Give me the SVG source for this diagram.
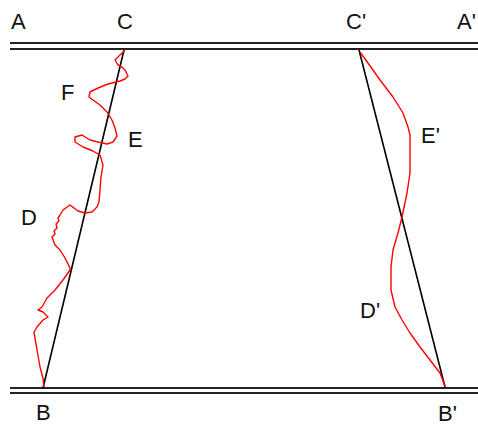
<svg xmlns="http://www.w3.org/2000/svg" width="478" height="428" viewBox="0 0 478 428">
<style>
.rail{stroke:#222;stroke-width:2;fill:none}
.blk{stroke:#000;stroke-width:1.6;fill:none}
.red{stroke:#ff0000;stroke-width:1.4;fill:none;stroke-linejoin:round}
.lbl{font-family:"Liberation Sans",Arial,sans-serif;font-size:22px;fill:#111}
</style>
<rect width="478" height="428" fill="#fff"/>
<g id="rails">
<line class="rail" x1="10" y1="43" x2="478" y2="43"/>
<line class="rail" x1="10" y1="49" x2="478" y2="49"/>
<line class="rail" x1="10" y1="388" x2="478" y2="388"/>
<line class="rail" x1="10" y1="393" x2="478" y2="393"/>
</g>
<g id="connectors">
<line class="blk" x1="124" y1="50" x2="43" y2="388"/>
<line class="blk" x1="359" y1="50" x2="445" y2="387"/>
<polyline class="red" points="125,50 115,60 118,65 122,67 125,70 128,76 125,79 120,81 108,84 98,88 90,92 89,97 93,100 100,105 107,112 112,120 115,128 117,136 113,142 107,144 98,142 90,140 82,135 75,137 75,142 83,147 93,151 100,155 103,165 101,177 100,190 99,202 97,207 92,212 85,213 78,211 70,205 63,210 60,215 58,218 59,221 56,224 57,228 54,231 55,234 52,237 55,245 60,250 65,258 70,268 70,270 63,280 55,290 47,298 42,307 38,310 43,312 48,317 43,320 37,327 34,332 37,350 40,367 43,378 44,387"/>
<polyline class="red" points="360,52 368,63 380,80 393,97 403,113 408,127 410,135 410,173 407,193 402,217 398,233 393,250 391,267 391,290 395,307 402,320 410,333 420,347 430,360 440,373 445,386"/>
</g>
<g id="labels">
<text class="lbl" x="11" y="29">A</text>
<text class="lbl" x="117" y="29">C</text>
<text class="lbl" x="346" y="29">C'</text>
<text class="lbl" x="457" y="29">A'</text>
<text class="lbl" x="61" y="100">F</text>
<text class="lbl" x="128" y="147">E</text>
<text class="lbl" x="21" y="225">D</text>
<text class="lbl" x="36" y="420">B</text>
<text class="lbl" x="421" y="143">E'</text>
<text class="lbl" x="360" y="318">D'</text>
<text class="lbl" x="438" y="421">B'</text>
</g>
</svg>
